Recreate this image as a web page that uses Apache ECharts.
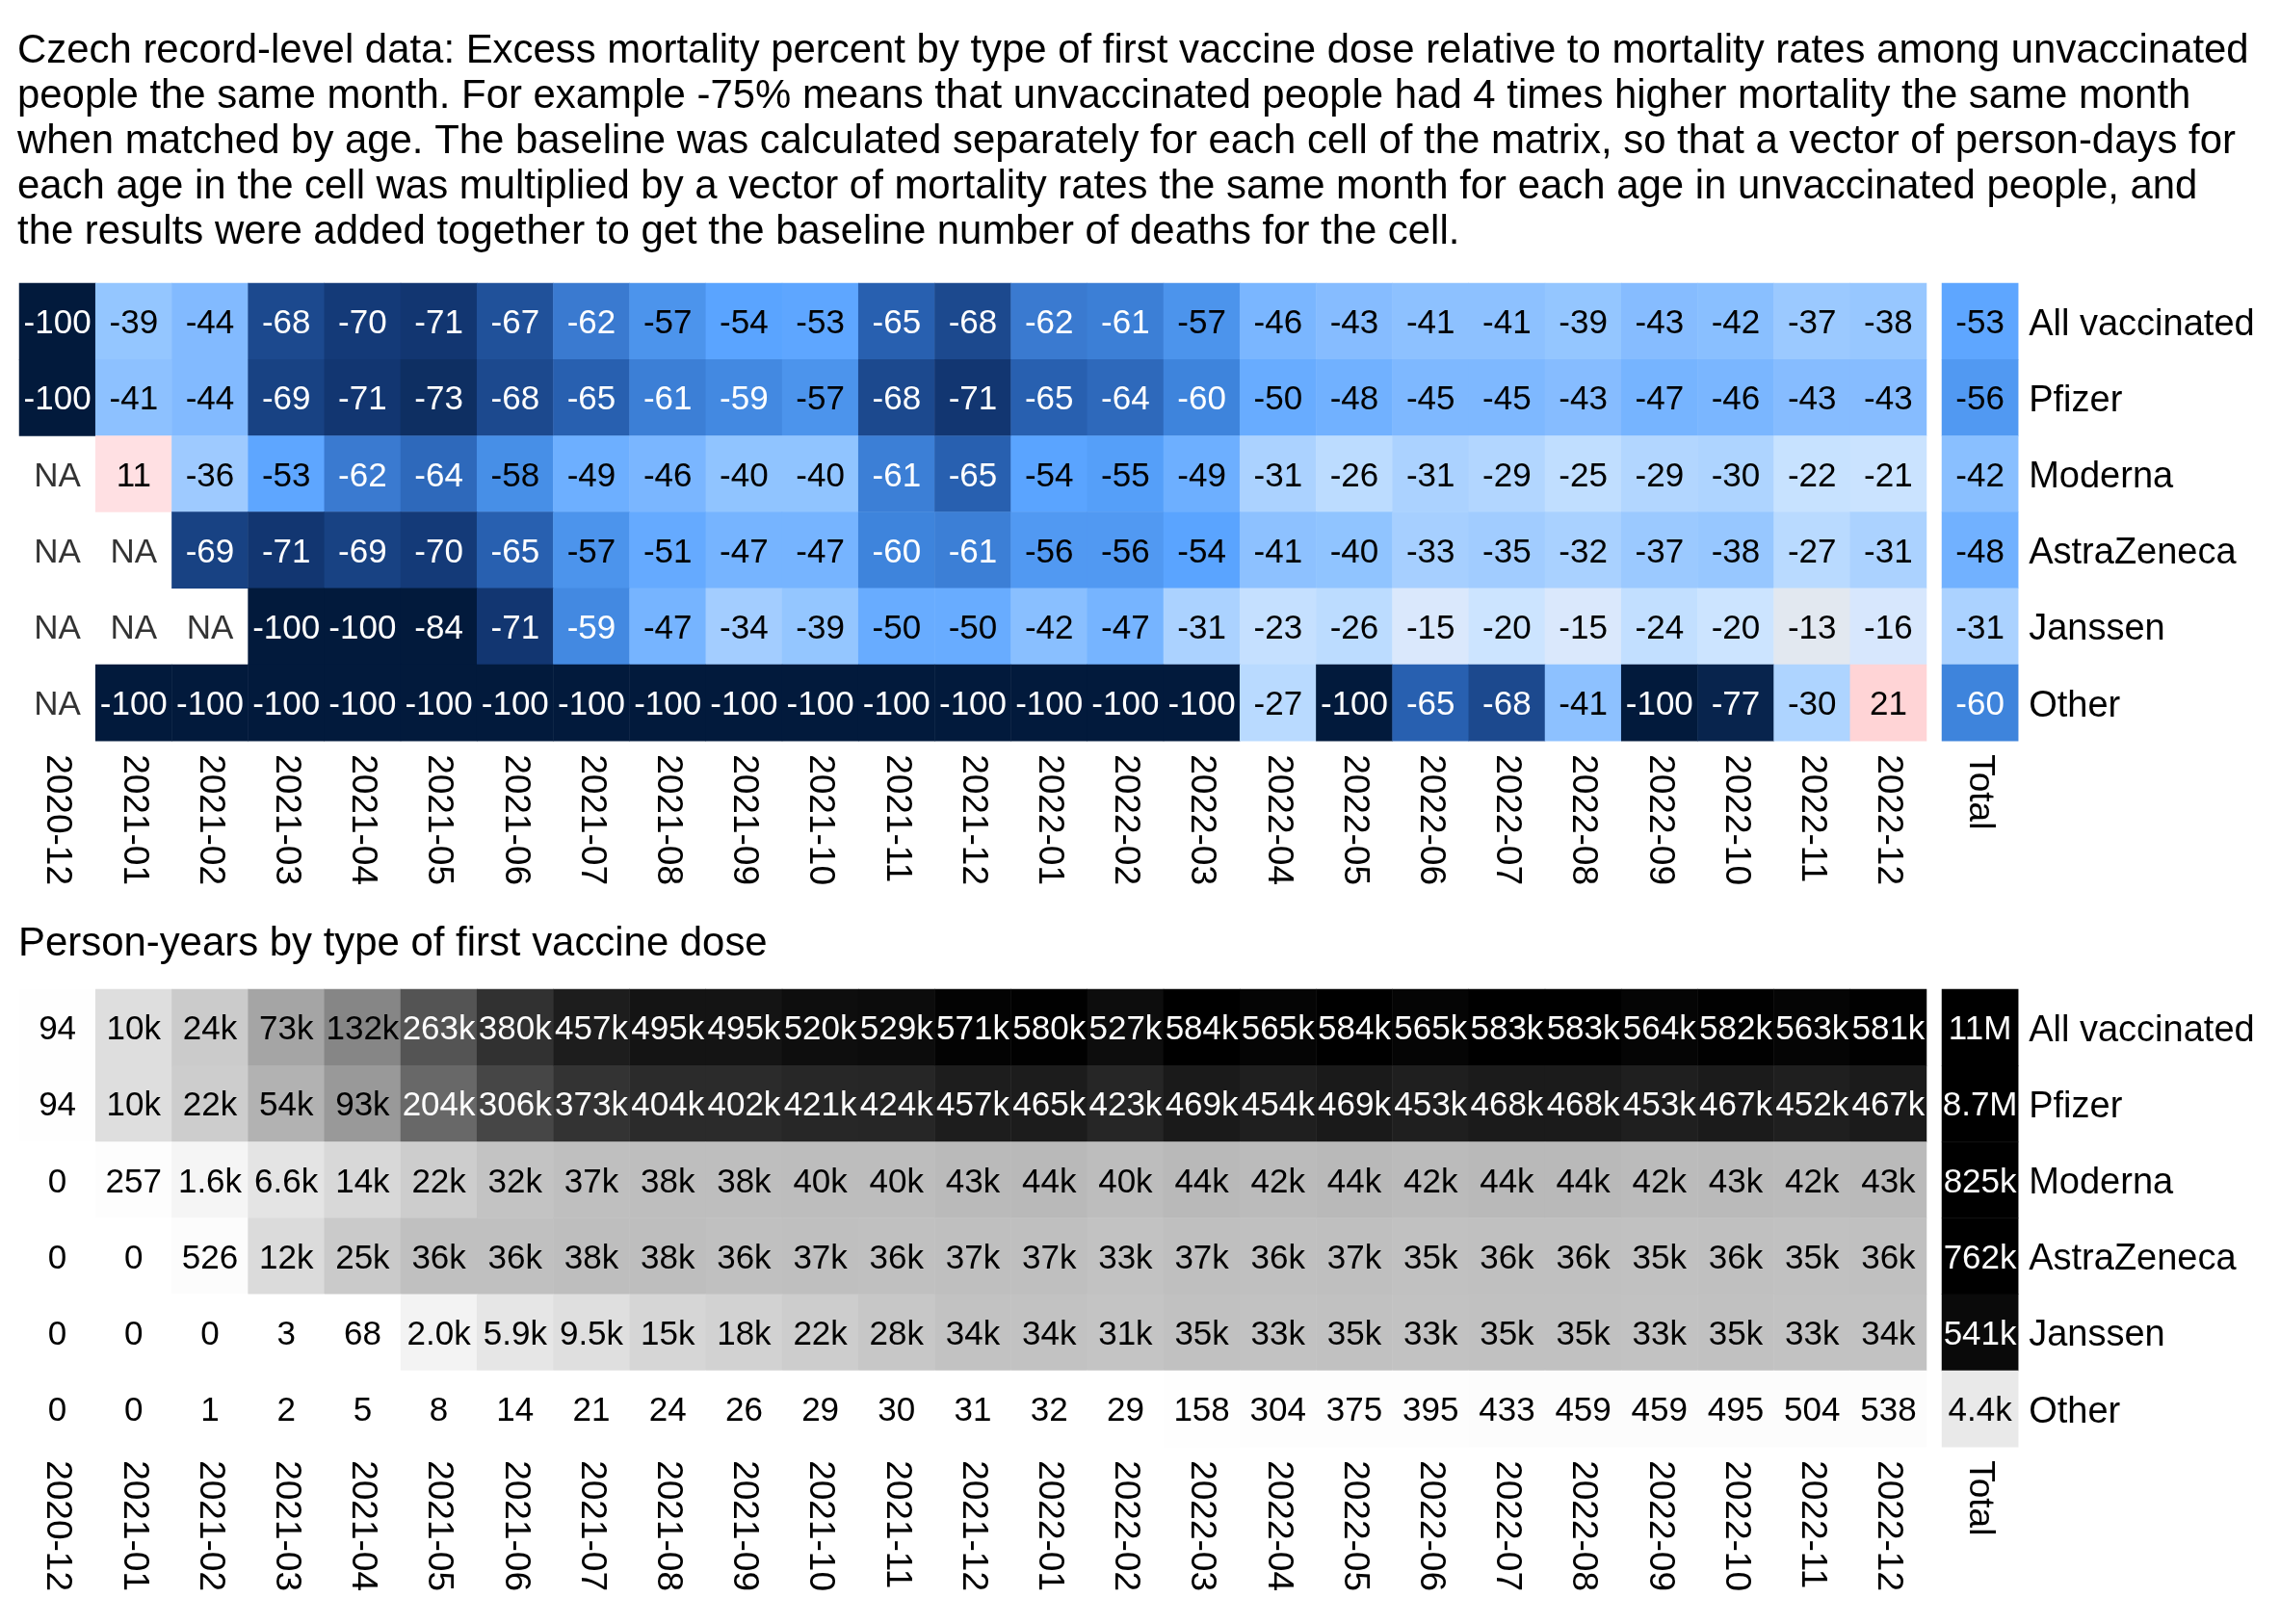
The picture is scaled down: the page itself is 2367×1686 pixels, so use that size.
<!DOCTYPE html>
<html>
<head>
<meta charset="utf-8">
<script src="https://cdn.jsdelivr.net/npm/echarts@6/dist/echarts.min.js"></script>
<style>
html,body{margin:0;padding:0;background:#fff;}
#chart{width:2367px;height:1686px;}
</style>
</head>
<body>
<div id="chart"></div>
<script>
// ---------- DATA ----------
const months = ['2020-12','2021-01','2021-02','2021-03','2021-04','2021-05','2021-06','2021-07','2021-08','2021-09','2021-10','2021-11','2021-12','2022-01','2022-02','2022-03','2022-04','2022-05','2022-06','2022-07','2022-08','2022-09','2022-10','2022-11','2022-12'];
const types = ['All vaccinated','Pfizer','Moderna','AstraZeneca','Janssen','Other'];
const totalLabel = ['Total'];

// Excess mortality percent (null = NA)
const exAll     = [-100,-39,-44,-68,-70,-71,-67,-62,-57,-54,-53,-65,-68,-62,-61,-57,-46,-43,-41,-41,-39,-43,-42,-37,-38];
const exPfizer  = [-100,-41,-44,-69,-71,-73,-68,-65,-61,-59,-57,-68,-71,-65,-64,-60,-50,-48,-45,-45,-43,-47,-46,-43,-43];
const exModerna = [null,11,-36,-53,-62,-64,-58,-49,-46,-40,-40,-61,-65,-54,-55,-49,-31,-26,-31,-29,-25,-29,-30,-22,-21];
const exAstra   = [null,null,-69,-71,-69,-70,-65,-57,-51,-47,-47,-60,-61,-56,-56,-54,-41,-40,-33,-35,-32,-37,-38,-27,-31];
const exJanssen = [null,null,null,-100,-100,-84,-71,-59,-47,-34,-39,-50,-50,-42,-47,-31,-23,-26,-15,-20,-15,-24,-20,-13,-16];
const exOther   = [null,-100,-100,-100,-100,-100,-100,-100,-100,-100,-100,-100,-100,-100,-100,-100,-27,-100,-65,-68,-41,-100,-77,-30,21];
const exTotal   = [-53,-56,-42,-48,-31,-60];

// Person-years
const pyAll     = [94,10000,24000,73000,132000,263000,380000,457000,495000,495000,520000,529000,571000,580000,527000,584000,565000,584000,565000,583000,583000,564000,582000,563000,581000];
const pyPfizer  = [94,10000,22000,54000,93000,204000,306000,373000,404000,402000,421000,424000,457000,465000,423000,469000,454000,469000,453000,468000,468000,453000,467000,452000,467000];
const pyModerna = [0,257,1600,6600,14000,22000,32000,37000,38000,38000,40000,40000,43000,44000,40000,44000,42000,44000,42000,44000,44000,42000,43000,42000,43000];
const pyAstra   = [0,0,526,12000,25000,36000,36000,38000,38000,36000,37000,36000,37000,37000,33000,37000,36000,37000,35000,36000,36000,35000,36000,35000,36000];
const pyJanssen = [0,0,0,3,68,2000,5900,9500,15000,18000,22000,28000,34000,34000,31000,35000,33000,35000,33000,35000,35000,33000,35000,33000,34000];
const pyOther   = [0,0,1,2,5,8,14,21,24,26,29,30,31,32,29,158,304,375,395,433,459,459,495,504,538];
const pyTotal   = [11000000,8700000,825000,762000,541000,4400];

// ---------- BUILD ----------
const exRows = [exAll,exPfizer,exModerna,exAstra,exJanssen,exOther];
const pyRows = [pyAll,pyPfizer,pyModerna,pyAstra,pyJanssen,pyOther];

const exData = [], naData = [], exTotData = [], pyData = [], pyTotData = [];
exRows.forEach((row, r) => row.forEach((v, c) => {
  if (v === null) naData.push([c, r]); else exData.push([c, r, v]);
}));
exTotal.forEach((v, r) => exTotData.push([0, r, v]));
pyRows.forEach((row, r) => row.forEach((v, c) => pyData.push([c, r, v])));
pyTotal.forEach((v, r) => pyTotData.push([0, r, v]));

const FONT = 'Liberation Sans, Arial, Helvetica, sans-serif';

// colour scales
function hex2rgb(h){h=h.replace('#','');return [parseInt(h.substr(0,2),16),parseInt(h.substr(2,2),16),parseInt(h.substr(4,2),16)];}
function rgb2hex(a){return '#'+a.map(x=>Math.round(Math.max(0,Math.min(255,x))).toString(16).padStart(2,'0')).join('');}
function interp(stops, v){
  if (v <= stops[0][0]) return stops[0][1];
  for (let i=1;i<stops.length;i++){
    if (v <= stops[i][0]){
      const t=(v-stops[i-1][0])/(stops[i][0]-stops[i-1][0]);
      const a=hex2rgb(stops[i-1][1]), b=hex2rgb(stops[i][1]);
      return rgb2hex(a.map((x,k)=>x+(b[k]-x)*t));
    }
  }
  return stops[stops.length-1][1];
}
const blueStops = [[-100,'#021a3c'],[-82,'#021a3c'],[-75,'#0a2854'],[-70,'#143a78'],[-65,'#2860b0'],[-62,'#3a7ad0'],[-60,'#3e84dc'],[-57,'#4c94ec'],[-54,'#5aa4ff'],[-50,'#68acff'],[-46,'#7ab6ff'],[-43,'#86bcff'],[-40,'#90c4ff'],[-36,'#9ecaff'],[-30,'#aed4ff'],[-25,'#c0deff'],[-20,'#cce4ff'],[-15,'#dae8fc'],[-13,'#e2e8f0'],[0,'#f2f0f0'],[11,'#ffe0e3'],[21,'#ffd4d6'],[100,'#ff8080']];
const topColors = [];
for (let v=-100; v<=100; v++) topColors.push(interp(blueStops, v));
const GRAY_MAX = 584000;
const grayColors = [];
for (let i=0;i<=200;i++){ const g = 255*(1-Math.sqrt(i/200)); grayColors.push(rgb2hex([g,g,g])); }

function fmtPY(v){
  if (v < 1000) return String(v);
  if (v < 10000) return (v/1000).toFixed(1)+'k';
  if (v < 1e6) return Math.round(v/1000)+'k';
  if (v < 1e7) return (v/1e6).toFixed(1)+'M';
  return Math.round(v/1e6)+'M';
}

const rich = {
  w:{color:'#ffffff',fontSize:35,fontFamily:FONT},
  b:{color:'#000000',fontSize:35,fontFamily:FONT}
};

const L = 20, CELL = 79.2, TOP1 = 294, TOP2 = 1027, TOTX = 2016;
const MAINW = CELL*25, H = CELL*6;
const LOFF = [0, 3];

function xAxisCfg(gi, data){
  return {type:'category', gridIndex:gi, data:data, position:'bottom',
    axisLine:{show:false}, axisTick:{show:false}, splitLine:{show:false},
    axisLabel:{interval:0, rotate:-90, margin:14, fontSize:37, color:'#000', fontFamily:FONT}};
}
function yAxisCfg(gi, show){
  return {type:'category', gridIndex:gi, data:types, inverse:true, position:'right',
    axisLine:{show:false}, axisTick:{show:false}, splitLine:{show:false},
    axisLabel:{show:show, margin:11, color:'#000', fontFamily:FONT,
      formatter:'{r|{value}}',
      rich:{r:{fontSize:38, color:'#000', fontFamily:FONT, padding:[7,0,0,0]}}}};
}

const option = {
  backgroundColor:'#ffffff',
  animation:false,
  title:[
    {text:'Czech record-level data: Excess mortality percent by type of first vaccine dose relative to mortality rates among unvaccinated\npeople the same month. For example -75% means that unvaccinated people had 4 times higher mortality the same month\nwhen matched by age. The baseline was calculated separately for each cell of the matrix, so that a vector of person-days for\neach age in the cell was multiplied by a vector of mortality rates the same month for each age in unvaccinated people, and\nthe results were added together to get the baseline number of deaths for the cell.',
     left:18, top:30, padding:0,
     textStyle:{fontSize:41.9, fontWeight:'normal', color:'#000', fontFamily:FONT, lineHeight:47}},
    {text:'Person-years by type of first vaccine dose', left:19, top:957, padding:0,
     textStyle:{fontSize:41.9, fontWeight:'normal', color:'#000', fontFamily:FONT, lineHeight:47}}
  ],
  grid:[
    {left:L, top:TOP1, width:MAINW, height:H},
    {left:TOTX, top:TOP1, width:CELL, height:H},
    {left:L, top:TOP2, width:MAINW, height:H},
    {left:TOTX, top:TOP2, width:CELL, height:H}
  ],
  xAxis:[xAxisCfg(0,months), xAxisCfg(1,totalLabel), xAxisCfg(2,months), xAxisCfg(3,totalLabel)],
  yAxis:[yAxisCfg(0,false), yAxisCfg(1,true), yAxisCfg(2,false), yAxisCfg(3,true)],
  visualMap:[
    {type:'continuous', show:false, seriesIndex:[0,1], dimension:2, min:-100, max:100, inRange:{color:topColors}},
    {type:'continuous', show:false, seriesIndex:[3,4], dimension:2, min:0, max:GRAY_MAX, inRange:{color:grayColors}, outOfRange:{color:'#000000'}}
  ],
  series:[
    {type:'heatmap', xAxisIndex:0, yAxisIndex:0, data:exData,
     label:{show:true, rich:rich, offset:LOFF, formatter:p=>{const v=p.value[2];return (v<=-59?'{w|':'{b|')+v+'}';}}},
    {type:'heatmap', xAxisIndex:1, yAxisIndex:1, data:exTotData,
     label:{show:true, rich:rich, offset:LOFF, formatter:p=>{const v=p.value[2];return (v<=-59?'{w|':'{b|')+v+'}';}}},
    {type:'scatter', xAxisIndex:0, yAxisIndex:0, data:naData, symbol:'rect', symbolSize:2,
     itemStyle:{color:'rgba(255,255,255,0)'}, silent:true,
     label:{show:true, position:'inside', offset:LOFF, formatter:'{b|NA}', rich:rich}},
    {type:'heatmap', xAxisIndex:2, yAxisIndex:2, data:pyData,
     label:{show:true, rich:rich, offset:LOFF, formatter:p=>{const v=p.value[2];return (v>=150000?'{w|':'{b|')+fmtPY(v)+'}';}}},
    {type:'heatmap', xAxisIndex:3, yAxisIndex:3, data:pyTotData,
     label:{show:true, rich:rich, offset:LOFF, formatter:p=>{const v=p.value[2];return (v>=150000?'{w|':'{b|')+fmtPY(v)+'}';}}}
  ]
};

const chart = echarts.init(document.getElementById('chart'), null, {renderer:'canvas'});
chart.setOption(option);
</script>
</body>
</html>
